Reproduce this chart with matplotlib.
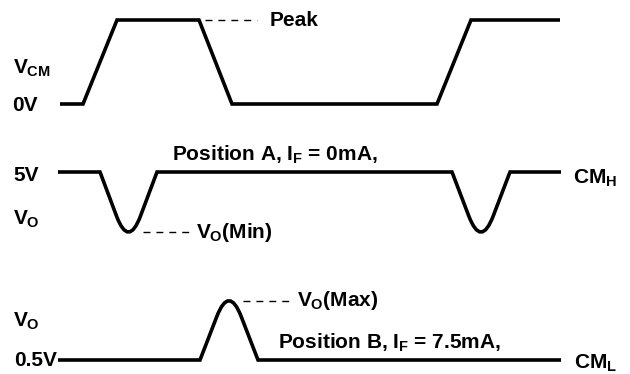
import matplotlib
matplotlib.use("Agg")
import matplotlib.pyplot as plt
from matplotlib.path import Path
from matplotlib.patches import PathPatch

plt.rcParams['font.family'] = ['Liberation Sans', 'DejaVu Sans']
plt.rcParams['font.weight'] = 'bold'
plt.rcParams['mathtext.fontset'] = 'custom'
plt.rcParams['mathtext.rm'] = 'Liberation Sans:bold'
plt.rcParams['mathtext.it'] = 'Liberation Sans:bold'
plt.rcParams['mathtext.bf'] = 'Liberation Sans:bold'

# waveform coordinates, in pixels of the 630x374 picture (y down)
vcm_x = [60, 83, 117, 199, 232, 437, 471, 560]
vcm_y = [104, 104, 20, 20, 104, 104, 20, 20]

# position A: high level with two dips (start, tip, end)
a_x0, a_x1, a_level = 58, 561, 172
a_dips = [(100, 128.5, 157, 248), (452, 481, 510, 248)]

# position B: low level with one hump
b_x0, b_x1, b_level = 58, 561, 360
b_humps = [(200, 229, 258, 285)]

dash_lines = [((205, 257), 20), ((143, 191), 232), ((243, 293), 301)]

labels = [
  (13, 68, r'$V_{CM}$'),
  (12, 105, '0V'),
  (13, 175, '5V'),
  (13, 219, r'$V_{O}$'),
  (13, 321, r'$V_{O}$'),
  (14, 360, '0.5V'),
  (270, 20, 'Peak'),
  (196, 232, r'$V_{O}$(Min)'),
  (297, 300, r'$V_{O}$(Max)'),
  (172, 155, r'Position A, $I_{F}$ = 0mA,'),
  (278, 343, r'Position B, $I_{F}$ = 7.5mA,'),
  (573, 178, r'$CM_{H}$'),
  (574, 363, r'$CM_{L}$'),
]


def roundWave(x0, x1, level, bumps, f=0.42):
  verts = [(x0, level)]
  codes = [Path.MOVETO]
  for (xs, xt, xe, yt) in bumps:
    verts.append((xs, level)); codes.append(Path.LINETO)
    p0 = (xt + f * (xs - xt), yt + f * (level - yt))
    p2 = (xt + f * (xe - xt), yt + f * (level - yt))
    verts.append(p0); codes.append(Path.LINETO)
    verts.append((xt, yt)); codes.append(Path.CURVE3)
    verts.append(p2); codes.append(Path.CURVE3)
    verts.append((xe, level)); codes.append(Path.LINETO)
  verts.append((x1, level)); codes.append(Path.LINETO)
  return Path(verts, codes)


fig = plt.figure(figsize=(6.3, 3.74), dpi=100)
ax = fig.add_axes([0, 0, 1, 1])
ax.set_xlim(0, 630)
ax.set_ylim(374, 0)
ax.axis('off')

lw = 2.6
ax.plot(vcm_x, vcm_y, c='k', lw=lw, solid_joinstyle='miter', solid_capstyle='butt')
ax.add_patch(PathPatch(roundWave(a_x0, a_x1, a_level, a_dips), fill=False, lw=lw, ec='k', capstyle='butt'))
ax.add_patch(PathPatch(roundWave(b_x0, b_x1, b_level, b_humps), fill=False, lw=lw, ec='k', capstyle='butt'))

for (xs, y) in dash_lines:
  ax.plot(xs, [y, y], c='k', lw=1.0, dashes=(5, 4.3))

for (x, y, s) in labels:
  ax.text(x, y, s, fontsize=15, fontweight='bold', ha='left', va='center')

plt.savefig("out.png", dpi=100)
